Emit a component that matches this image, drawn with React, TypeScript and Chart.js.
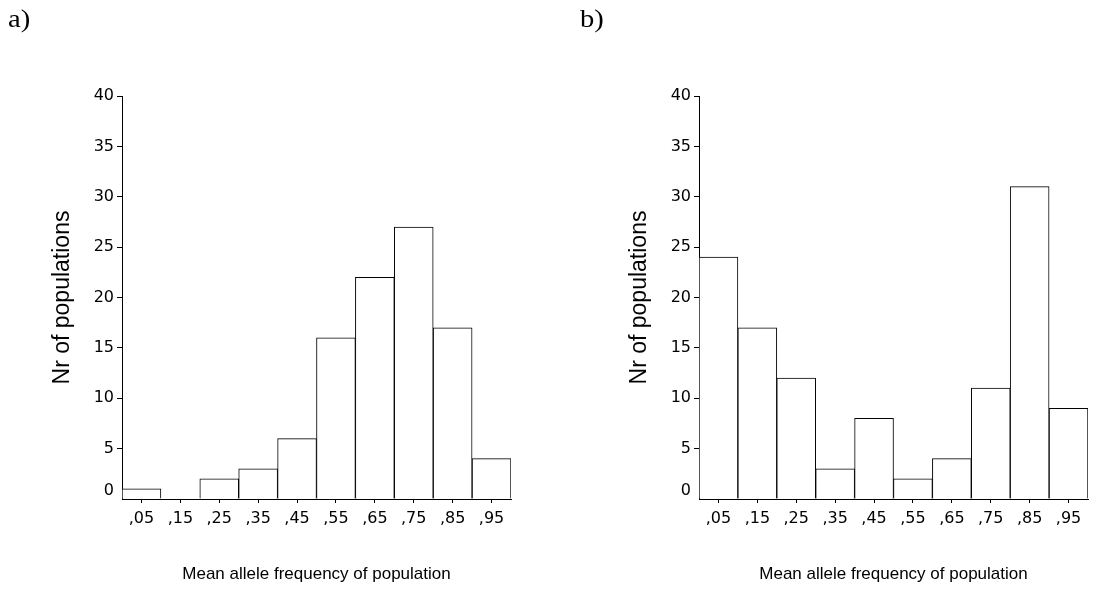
import React, { useEffect, useRef } from "react";
import { Chart, registerables } from "chart.js";

Chart.register(...registerables);

// Bin labels (class midpoints of the mean allele frequency)
const binLabels = [",05", ",15", ",25", ",35", ",45", ",55", ",65", ",75", ",85", ",95"];

// Number of populations per bin
const countsA = [1, 0, 2, 3, 6, 16, 22, 27, 17, 4];
const countsB = [24, 17, 12, 3, 8, 2, 4, 11, 31, 9];

const yTicks = [0, 5, 10, 15, 20, 25, 30, 35, 40];

const xTitle = "Mean allele frequency of population";
const yTitle = "Nr of populations";

const SANS = "'Liberation Sans', Arial, sans-serif";
const TICK_FONT = "'DejaVu Sans', sans-serif";

// Draws the "0" label a little above the baseline
const zeroLabelPlugin = {
  id: "zeroLabel",
  afterDraw(chart: any) {
    const y = chart.scales.y;
    const ctx = chart.ctx;
    ctx.save();
    ctx.font = `16px ${TICK_FONT}`;
    ctx.fillStyle = "#000";
    ctx.textAlign = "right";
    ctx.textBaseline = "middle";
    ctx.fillText(String(yTicks[0]), y.right - 8, y.getPixelForValue(yTicks[0]) - 8);
    ctx.restore();
  },
};

function Histogram({ counts, left }: { counts: number[]; left: number }) {
  const ref = useRef<HTMLCanvasElement | null>(null);
  useEffect(() => {
    if (!ref.current) return;
    const chart = new Chart(ref.current, {
      type: "bar",
      data: {
        labels: binLabels,
        datasets: [
          {
            data: counts,
            backgroundColor: "#ffffff",
            borderColor: "#000000",
            borderWidth: 1,
            barPercentage: 1,
            categoryPercentage: 1,
            borderSkipped: "bottom",
          },
        ],
      },
      options: {
        animation: false,
        responsive: false,
        maintainAspectRatio: false,
        layout: { padding: { top: 96, right: 36, bottom: 0, left: 0 } },
        plugins: { legend: { display: false }, tooltip: { enabled: false } },
        scales: {
          x: {
            type: "category",
            offset: true,
            grid: {
              display: true,
              drawOnChartArea: false,
              drawTicks: true,
              tickLength: 4,
              color: "#000",
              offset: false,
            },
            border: { display: true, color: "#000", width: 1 },
            ticks: {
              color: "#000",
              font: { family: TICK_FONT, size: 16 },
              padding: 6,
              maxRotation: 0,
              autoSkip: false,
            },
            title: {
              display: true,
              text: xTitle,
              color: "#000",
              font: { family: SANS, size: 17 },
              padding: { top: 0, bottom: 5 },
            },
            afterFit: (s: any) => {
              s.height = 91;
            },
          },
          y: {
            type: "linear",
            min: 0,
            max: 40,
            afterBuildTicks: (s: any) => {
              s.ticks = yTicks.map((v) => ({ value: v }));
            },
            grid: {
              display: true,
              drawOnChartArea: false,
              drawTicks: true,
              tickLength: 5,
              color: (c: any) => (c.tick && c.tick.value === 0 ? "rgba(0,0,0,0)" : "#000"),
            },
            border: { display: true, color: "#000", width: 1 },
            ticks: {
              color: "#000",
              font: { family: TICK_FONT, size: 16 },
              padding: 3,
              callback: (v: any) => (v === 0 ? "" : String(v)),
            },
            title: {
              display: true,
              text: yTitle,
              color: "#000",
              font: { family: SANS, size: 23 },
              padding: { top: 49, bottom: 0 },
            },
            afterFit: (s: any) => {
              s.width = 122;
            },
          },
        },
      },
      plugins: [zeroLabelPlugin],
    });
    return () => chart.destroy();
  }, [counts]);
  return (
    <canvas
      ref={ref}
      width={547}
      height={590}
      style={{ position: "absolute", left, top: 0, width: 547, height: 590 }}
    />
  );
}

export default function App() {
  const tag: React.CSSProperties = {
    position: "absolute",
    top: 4,
    fontFamily: "'Liberation Serif', 'Times New Roman', serif",
    fontSize: 26,
    lineHeight: "30px",
    color: "#000",
    margin: 0,
    transform: "scaleX(1.1)",
    transformOrigin: "left top",
  };
  return (
    <div style={{ position: "fixed", left: 0, top: 0, width: 1095, height: 590, background: "#fff", overflow: "hidden" }}>
      <Histogram counts={countsA} left={0} />
      <Histogram counts={countsB} left={577} />
      <div style={{ ...tag, left: 8 }}>a)</div>
      <div style={{ ...tag, left: 580 }}>b)</div>
    </div>
  );
}
